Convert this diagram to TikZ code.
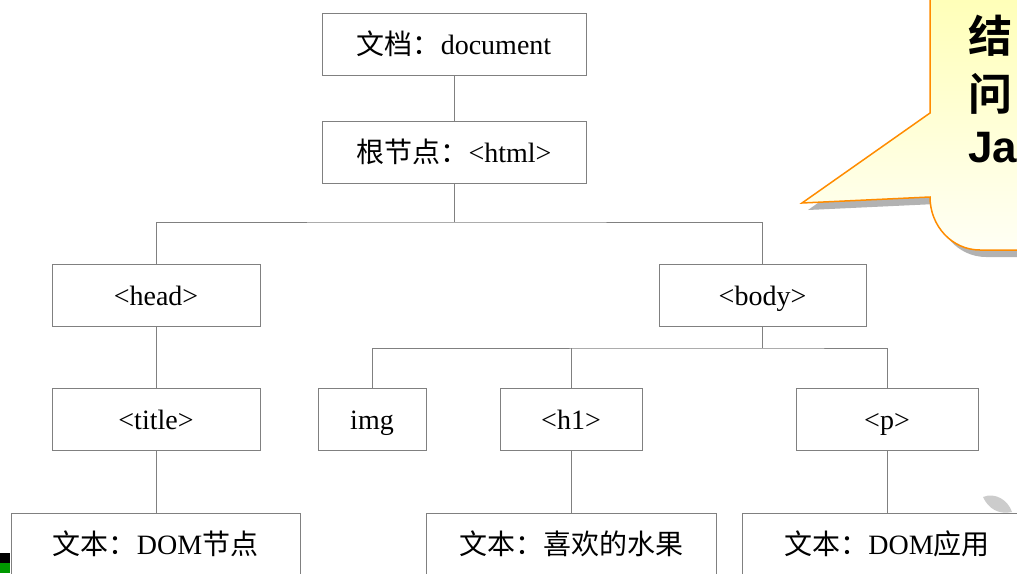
\documentclass[tikz,border=0pt]{standalone}
\usepackage{fontspec}
\setmainfont{Liberation Serif}
\newfontfamily\cjk{Noto Sans CJK SC}
\newfontfamily\cjkb{Noto Sans CJK SC Bold}
\newfontfamily\sansb{Liberation Sans}
\begin{document}
\begin{tikzpicture}[x=1pt,y=-1pt,
  lbl/.style={font=\fontsize{28}{32}\selectfont, text height=21pt, text depth=0pt, inner sep=0pt},
  box/.style={draw=black!50, line width=0.9pt, fill=white, minimum height=62pt, lbl},
  link/.style={draw=black!50, line width=0.9pt}]
\useasboundingbox (0,0) rectangle (1017,573);
\fill[white] (0,0) rectangle (1017,573);
% leaf artifact
\fill[black!20] (983,497) .. controls (995,492) and (1008,500) .. (1012,512) .. controls (998,515) and (988,508) .. (983,497);
% nodes
\node[box, minimum width=264pt] (doc) at (454,44) {{\cjk 文档：}document};
\node[box, minimum width=264pt] (html) at (454,152) {{\cjk 根节点：}<html>};
\node[box, minimum width=208pt] (head) at (156,295) {<head>};
\node[box, minimum width=207pt] (body) at (762.5,295) {<body>};
\node[box, minimum width=208pt] (title) at (156,419) {<title>};
\node[box, minimum width=108pt] (img) at (372,419) {img};
\node[box, minimum width=142pt] (h1) at (571,419) {<h1>};
\node[box, minimum width=182pt] (p) at (887,419) {<p>};
\node[box, minimum width=289pt, minimum height=80pt] (t1) at (155.5,553) {};
\node[lbl] (l1) at (155.5,544) {{\cjk 文本：}DOM{\cjk 节点}};
\node[box, minimum width=290pt, minimum height=80pt] (t2) at (571,553) {};
\node[lbl] (l2) at (571,544) {{\cjk 文本：喜欢的水果}};
\node[box, minimum width=290pt, minimum height=80pt] (t3) at (887,553) {};
\node[lbl] (l3) at (887,544) {{\cjk 文本：}DOM{\cjk 应用}};
% connectors
\coordinate (j1) at (454,222);
\coordinate (j2) at (762.5,348);
\draw[link] (doc.south) -- (html.north);
\draw[link] (html.south) -- (j1);
\draw[link] (head.north) |- (j1) -| (body.north);
\draw[link] (body.south) -- (j2);
\draw[link] (img.north) |- (j2) -| (p.north);
\draw[link] (h1.north) -- (h1.north |- j2);
\draw[link] (head.south) -- (title.north);
\draw[link] (title.south) -- (title.south |- t1.north);
\draw[link] (h1.south) -- (t2.north);
\draw[link] (p.south) -- (t3.north);
% artifact bottom-left
\fill[black] (0,553) rectangle (10,563);
\fill[green!60!black] (0,563) rectangle (10,573);
% callout shadow
\fill[black!30] (936,-5) -- (936,120) -- (808,210) -- (936,204)
  .. controls (936,232) and (958,257) .. (986,257) -- (1030,257) -- (1030,-5) -- cycle;
% callout
\shade[top color=yellow!28, bottom color=yellow!4, draw=orange!90!yellow, line width=1.5pt]
  (930,-5) -- (930,113) -- (802,203) -- (930,197)
  .. controls (930,226) and (952,250) .. (980,250) -- (1025,250) -- (1025,-5) -- cycle;
\node[anchor=west, inner sep=0pt, font=\fontsize{44}{48}\selectfont\cjkb] (c1) at (968,36) {结};
\node[anchor=west, inner sep=0pt, font=\fontsize{44}{48}\selectfont\cjkb] (c2) at (968,94) {问};
\node[anchor=west, inner sep=0pt, font=\fontsize{44}{48}\selectfont\sansb\bfseries] (c3) at (968,148) {Ja};
\end{tikzpicture}
\end{document}
